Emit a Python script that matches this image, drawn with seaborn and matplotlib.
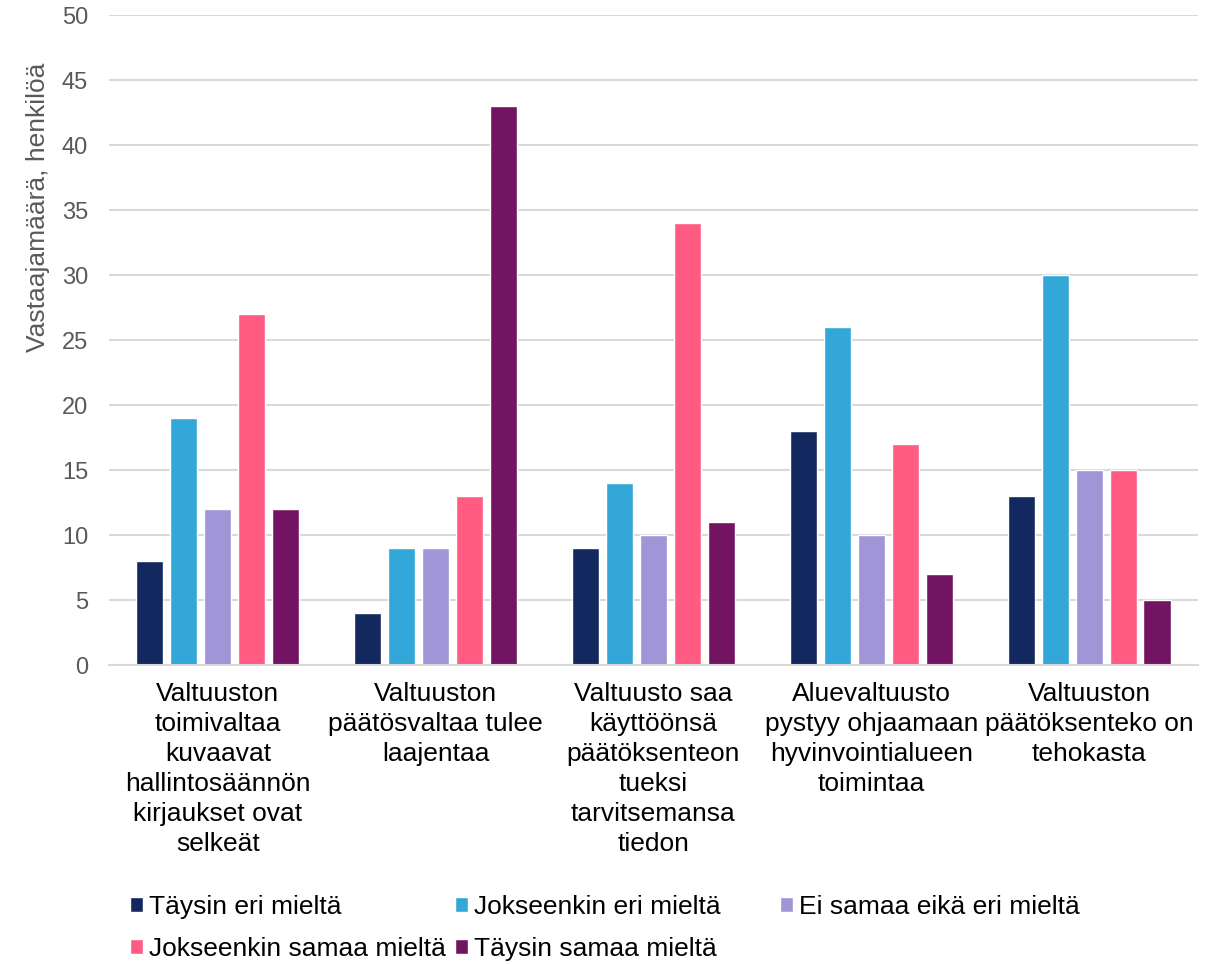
import pandas as pd
import matplotlib.pyplot as plt
import seaborn as sns

categories = [
    "Valtuuston\ntoimivaltaa\nkuvaavat\nhallintosäännön\nkirjaukset ovat\nselkeät",
    "Valtuuston\npäätösvaltaa tulee\nlaajentaa",
    "Valtuusto saa\nkäyttöönsä\npäätöksenteon\ntueksi\ntarvitsemansa\ntiedon",
    "Aluevaltuusto\npystyy ohjaamaan\nhyvinvointialueen\ntoimintaa",
    "Valtuuston\npäätöksenteko on\ntehokasta",
]
responses = [
    "Täysin eri mieltä",
    "Jokseenkin eri mieltä",
    "Ei samaa eikä eri mieltä",
    "Jokseenkin samaa mieltä",
    "Täysin samaa mieltä",
]
taysin_eri = [8, 4, 9, 18, 13]
jokseenkin_eri = [19, 9, 14, 26, 30]
ei_samaa_eika_eri = [12, 9, 10, 10, 15]
jokseenkin_samaa = [27, 13, 34, 17, 15]
taysin_samaa = [12, 43, 11, 7, 5]
colors = ["#12285f", "#33a8d8", "#a095d6", "#ff5b83", "#731462"]

series = [taysin_eri, jokseenkin_eri, ei_samaa_eika_eri, jokseenkin_samaa, taysin_samaa]
rows = []
for resp, vals in zip(responses, series):
    for cat, v in zip(categories, vals):
        rows.append({"Väite": cat, "Vastaus": resp, "Määrä": v})
df = pd.DataFrame(rows)

sns.set_style("white")
plt.rcParams["font.family"] = ["Liberation Sans", "DejaVu Sans"]

fig = plt.figure(figsize=(12.2, 9.64), dpi=100)
ax = fig.add_axes([0.0893, 0.310, 0.8927, 0.674])
sns.barplot(data=df, x="Väite", y="Määrä", hue="Vastaus", hue_order=responses,
            order=categories, palette=colors, width=0.78, gap=0.2,
            saturation=1, errorbar=None, ax=ax)

ax.set_ylim(0, 50)
ax.set_yticks(range(0, 51, 5))
ax.yaxis.grid(True, color="#d9d9d9", linewidth=1.5)
ax.set_axisbelow(True)
for s in ["top", "right", "left"]:
    ax.spines[s].set_visible(False)
ax.spines["bottom"].set_color("#d9d9d9")
ax.spines["bottom"].set_linewidth(1.5)
ax.tick_params(axis="y", labelsize=17, colors="#595959", length=0, pad=15)
ax.tick_params(axis="x", labelsize=19, colors="black", length=0, pad=12)
for t in ax.get_xticklabels():
    t.set_linespacing(1.32)
ax.set_xlabel("")
ax.set_ylabel("Vastaajamäärä, henkilöä", fontsize=19, color="#595959")
ax.yaxis.set_label_coords(-0.054, 0.705)

# legend: three columns placed like the original (row-wise order)
handles, labels = ax.get_legend_handles_labels()
ax.get_legend().remove()
columns = [[0, 3], [1, 4], [2]]
x_pos = [0.1066, 0.373, 0.639]
for idx, x in zip(columns, x_pos):
    fig.legend([handles[i] for i in idx], [labels[i] for i in idx],
               loc="upper left", bbox_to_anchor=(x, 0.072), frameon=False,
               fontsize=19, labelcolor="black", handlelength=0.5,
               handleheight=0.5, handletextpad=0.22, borderpad=0,
               borderaxespad=0, labelspacing=0.7)

plt.savefig("out.png", dpi=100)
